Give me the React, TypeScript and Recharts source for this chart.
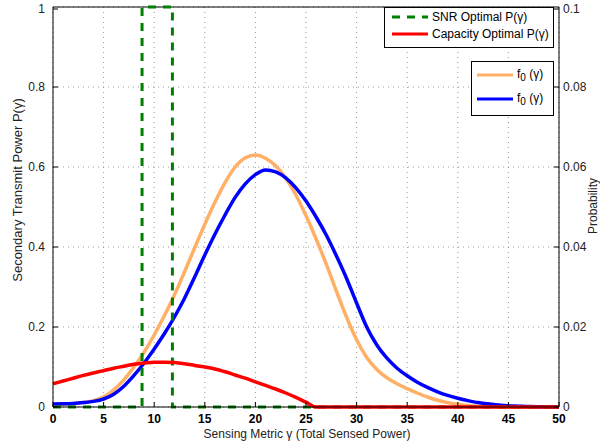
import { LineChart, Line, XAxis, YAxis, CartesianGrid, ReferenceLine } from 'recharts'

// sensing metric grid, 0..50
const gamma = Array.from({ length: 51 }, (_, i) => i)

// f0 (orange) and f0 (blue), probability (right axis)
const f0Orange = [
  0.0005, 0.0006, 0.0008, 0.0011, 0.0016, 0.0025, 0.0043, 0.0068, 0.01, 0.0137,
  0.018, 0.0228, 0.028, 0.0338, 0.0398, 0.0457, 0.0512, 0.0561, 0.06, 0.0623,
  0.063, 0.0622, 0.0603, 0.0572, 0.053, 0.0478, 0.042, 0.0357, 0.029, 0.0225,
  0.0168, 0.0124, 0.0094, 0.0073, 0.0058, 0.0046, 0.0035, 0.0025, 0.0017, 0.0011,
  0.0007, 0.0004, 0.0002, 0.0001, 0.00005, 0, 0, 0, 0, 0, 0,
]
const f0Blue = [
  0.00075, 0.0008, 0.0009, 0.0011, 0.0014, 0.002, 0.0032, 0.0052, 0.0079, 0.011,
  0.0145, 0.0183, 0.0225, 0.0272, 0.0325, 0.038, 0.0432, 0.048, 0.0524, 0.0558,
  0.0581, 0.05925, 0.0588, 0.0573, 0.0548, 0.0515, 0.0475, 0.043, 0.0378, 0.0322,
  0.026, 0.02, 0.0155, 0.0122, 0.0097, 0.0078, 0.0062, 0.0049, 0.0038, 0.0029,
  0.0022, 0.0016, 0.0011, 0.0008, 0.0005, 0.0003, 0.0002, 0.0001, 0.00005, 0.00002, 0,
]

// capacity optimal power (left axis)
const capacityP = [
  0.058, 0.065, 0.072, 0.079, 0.085, 0.091, 0.097, 0.102, 0.107, 0.11,
  0.112, 0.112, 0.111, 0.108, 0.104, 0.1, 0.095, 0.088, 0.08, 0.072,
  0.063, 0.054, 0.045, 0.035, 0.024, 0.012, 0, 0, 0, 0,
  0, 0, 0, 0, 0, 0, 0, 0, 0, 0,
  0, 0, 0, 0, 0, 0, 0, 0, 0, 0, 0,
]

// SNR optimal power: on/off window
const snrX = [0, 8.8, 8.8, 11.8, 11.8, 50]
const snrP = [0, 0, 1, 1, 0, 0]

const xTicks = [0, 5, 10, 15, 20, 25, 30, 35, 40, 45, 50]
const leftTicks = [0, 0.2, 0.4, 0.6, 0.8, 1]
const rightTicks = [0, 0.02, 0.04, 0.06, 0.08, 0.1]

const curveData = gamma.map((g, i) => ({ g, orange: f0Orange[i], blue: f0Blue[i], cap: capacityP[i] }))
const snrData = snrX.map((g, i) => ({ g, snr: snrP[i] }))

const FONT = '"Liberation Sans", Arial, Helvetica, sans-serif'

const fmt = (v: number) => String(Math.round(v * 100) / 100)

const XTick = (props: any) => {
  const { x, y, payload } = props
  return (
    <g>
      <line x1={x} x2={x} y1={y - 7} y2={y - 12} stroke="#000" />
      <text x={x} y={y} dy="0.71em" textAnchor="middle" fontSize={12} fontWeight="bold" fill="#000" fontFamily={FONT}>
        {payload.value}
      </text>
    </g>
  )
}

const LeftTick = (props: any) => {
  const { x, y, payload } = props
  return (
    <g>
      <line x1={x + 8} x2={x + 13} y1={y} y2={y} stroke="#000" />
      <text x={x} y={y} dy="0.355em" textAnchor="end" fontSize={12} fill="#222" fontFamily={FONT}>
        {fmt(payload.value)}
      </text>
    </g>
  )
}

const RightTick = (props: any) => {
  const { x, y, payload } = props
  return (
    <g>
      <line x1={x - 4} x2={x - 9} y1={y} y2={y} stroke="#000" />
      <text x={x} y={y} dy="0.355em" textAnchor="start" fontSize={12} fill="#222" fontFamily={FONT}>
        {fmt(payload.value)}
      </text>
    </g>
  )
}

const Sample = ({ color, dash }: { color: string; dash?: string }) => (
  <svg width={36} height={6} style={{ display: 'block' }}>
    <line x1={0} x2={36} y1={3} y2={3} stroke={color} strokeWidth={3} strokeDasharray={dash} />
  </svg>
)

const rowStyle: any = { position: 'absolute', display: 'flex', alignItems: 'center', gap: 4, whiteSpace: 'nowrap' }

export default function App() {
  return (
    <div style={{ position: 'absolute', left: 0, top: 0, width: 600, height: 446, fontFamily: FONT, background: '#fff', overflow: 'hidden' }}>
      <LineChart width={600} height={446} data={curveData} margin={{ top: 7, right: 0, bottom: 0, left: 0 }}>
        <CartesianGrid yAxisId="left" stroke="#999" strokeDasharray="1 4" />
        <XAxis
          dataKey="g"
          type="number"
          domain={[0, 50]}
          ticks={xTicks}
          height={39}
          tickLine={false}
          tickSize={0}
          tickMargin={7}
          stroke="#000"
          tick={<XTick />}
          allowDuplicatedCategory={false}
        />
        <YAxis
          yAxisId="left"
          type="number"
          domain={[0, 1]}
          ticks={leftTicks}
          width={53}
          tickLine={false}
          tickSize={0}
          tickMargin={8}
          stroke="#000"
          tick={<LeftTick />}
        />
        <YAxis
          yAxisId="right"
          orientation="right"
          type="number"
          domain={[0, 0.1]}
          ticks={rightTicks}
          width={41}
          tickLine={false}
          tickSize={0}
          tickMargin={4}
          stroke="#000"
          tick={<RightTick />}
        />
        <ReferenceLine yAxisId="left" y={1} stroke="#000" />
        <Line yAxisId="right" dataKey="orange" type="monotone" stroke="#FFB066" strokeWidth={3.5} dot={false} isAnimationActive={false} />
        <Line yAxisId="right" dataKey="blue" type="monotone" stroke="#0000FF" strokeWidth={3.5} dot={false} isAnimationActive={false} />
        <Line yAxisId="left" data={snrData} dataKey="snr" type="linear" stroke="#008000" strokeWidth={3} strokeDasharray="8 7" dot={false} isAnimationActive={false} />
        <Line yAxisId="left" dataKey="cap" type="monotone" stroke="#FF0000" strokeWidth={3.5} dot={false} isAnimationActive={false} />
      </LineChart>

      {/* axis titles */}
      <div style={{ position: 'absolute', left: 17, top: 190, transform: 'translate(-50%, -50%) rotate(-90deg)', fontSize: 13, whiteSpace: 'nowrap', color: '#222' }}>
        Secondary Transmit Power P(γ)
      </div>
      <div style={{ position: 'absolute', left: 307, top: 434, transform: 'translate(-50%, -50%)', fontSize: 12, whiteSpace: 'nowrap', color: '#222' }}>
        Sensing Metric γ (Total Sensed Power)
      </div>
      <div style={{ position: 'absolute', left: 593, top: 206, transform: 'translate(-50%, -50%) rotate(-90deg)', fontSize: 12, lineHeight: '12px', whiteSpace: 'nowrap', color: '#222' }}>
        Probability
      </div>

      {/* legend 1 */}
      <div style={{ position: 'absolute', left: 384, top: 7, width: 168, height: 39, border: '1px solid #000', background: '#fff', fontSize: 12 }}>
        <div style={{ ...rowStyle, left: 7, top: 2 }}>
          <Sample color="#008000" dash="8 7" />
          <span>SNR Optimal P(γ)</span>
        </div>
        <div style={{ ...rowStyle, left: 7, top: 19 }}>
          <Sample color="#FF0000" />
          <span>Capacity Optimal P(γ)</span>
        </div>
      </div>

      {/* legend 2 */}
      <div style={{ position: 'absolute', left: 471, top: 61, width: 81, height: 53, border: '1px solid #000', background: '#fff', fontSize: 12 }}>
        <div style={{ ...rowStyle, left: 5, top: 5 }}>
          <Sample color="#FFB066" />
          <span>f<sub style={{ fontSize: 10 }}>0</sub> (γ)</span>
        </div>
        <div style={{ ...rowStyle, left: 5, top: 29 }}>
          <Sample color="#0000FF" />
          <span>f<sub style={{ fontSize: 10 }}>0</sub> (γ)</span>
        </div>
      </div>
    </div>
  )
}
